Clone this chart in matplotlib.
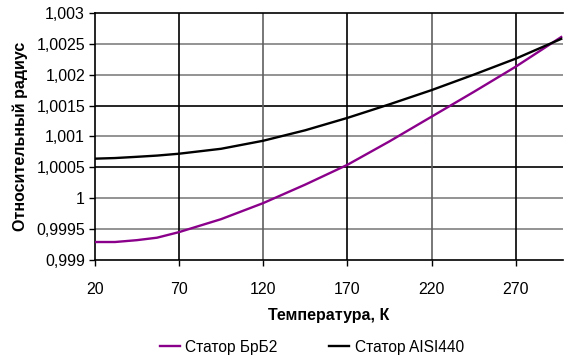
import numpy as np
import matplotlib
matplotlib.use("Agg")
import matplotlib.pyplot as plt

plt.rcParams['font.family'] = ['Liberation Sans', 'DejaVu Sans']

# temperature, K
temp = [20, 32, 45, 57, 70, 95, 120, 145, 170, 195, 220, 245, 270, 297]
# relative radius
brb2 = [0.99929, 0.99929, 0.99932, 0.99936, 0.99945, 0.99966, 0.99992, 1.00022,
        1.00054, 1.00092, 1.00132, 1.00172, 1.00213, 1.00261]
aisi440 = [1.00064, 1.00065, 1.00067, 1.00069, 1.00072, 1.00080, 1.00093, 1.00110,
           1.00130, 1.00152, 1.00175, 1.00200, 1.00226, 1.00258]

xticks = [20, 70, 120, 170, 220, 270]
yticks = [0.999, 0.9995, 1.0, 1.0005, 1.001, 1.0015, 1.002, 1.0025, 1.003]
ylabels = ['0,999', '0,9995', '1', '1,0005', '1,001', '1,0015', '1,002', '1,0025', '1,003']

fig = plt.figure(figsize=(5.64, 3.6), dpi=100)
ax = fig.add_axes([0.168, 0.278, 0.830, 0.686])

# gridlines (some look darker in the original)
hcol = {0.9995: '#808080', 1.0: '#808080', 1.0005: 'black', 1.001: '#808080',
        1.0015: 'black', 1.002: '#808080', 1.0025: '#808080'}
for y, c in hcol.items():
    ax.axhline(y, color=c, lw=1.2, zorder=1)
vcol = {70: 'black', 120: '#606060', 170: 'black', 220: '#606060', 270: 'black'}
for x, c in vcol.items():
    ax.axvline(x, color=c, lw=1.2, zorder=1)

ax.plot(temp, brb2, color='#8B008B', lw=1.7, label='Статор БрБ2', zorder=3)
ax.plot(temp, aisi440, color='black', lw=1.7, label='Статор AISI440', zorder=3)

ax.set_xlim(20, 298)
ax.set_ylim(0.999, 1.003)
ax.set_xticks(xticks)
ax.set_xticklabels([str(t) for t in xticks])
ax.set_yticks(yticks)
ax.set_yticklabels(ylabels)
ax.tick_params(labelsize=11.5, length=4, width=1, direction='out')
ax.tick_params(axis='x', pad=12)
ax.tick_params(axis='y', pad=3)

for s in ['left', 'bottom', 'top']:
    ax.spines[s].set_linewidth(1.2)
ax.spines['right'].set_visible(False)

ax.set_xlabel('Температура, К', fontsize=11.5, fontweight='bold', labelpad=8)
ax.set_ylabel('Относительный радиус', fontsize=11.5, fontweight='bold', labelpad=6)

fig.legend(loc='center', ncol=2, frameon=False, fontsize=11.2,
           bbox_to_anchor=(0.553, 0.036), handlelength=1.3, handletextpad=0.35,
           columnspacing=3.3)

fig.savefig('out.png', dpi=100)
